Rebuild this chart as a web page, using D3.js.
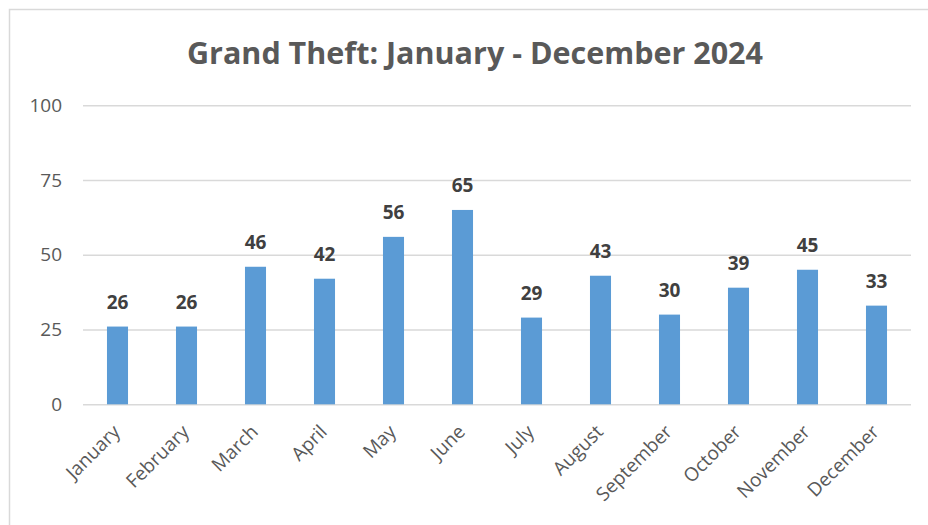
<!DOCTYPE html>
<html>
<head>
<meta charset="utf-8">
<script src="https://cdn.jsdelivr.net/npm/d3@7"></script>
<style>
  html, body { margin: 0; padding: 0; background: #fff; }
  svg { display: block; }
</style>
</head>
<body>
<svg id="chart" width="928" height="525"></svg>
<script>
// Monthly counts of grand theft, 2024
const months = ["January", "February", "March", "April", "May", "June",
                "July", "August", "September", "October", "November", "December"];
const counts = [26, 26, 46, 42, 56, 65, 29, 43, 30, 39, 45, 33];
const yTicks = [0, 25, 50, 75, 100];
const title = "Grand Theft: January - December 2024";

const W = 928, H = 525;
const margin = { top: 105.3, right: 17, bottom: 120.7, left: 83 };
const svg = d3.select("#chart");
const font = "'Open Sans', 'DejaVu Sans', sans-serif";

// chart frame (only top and left edges fall inside the view)
svg.append("rect")
  .attr("x", 9.5).attr("y", 9.5)
  .attr("width", W).attr("height", H)
  .attr("fill", "#fff")
  .attr("stroke", "#d9d9d9").attr("stroke-width", 1.5);

const x = d3.scaleBand()
  .domain(months)
  .range([margin.left, W - margin.right])
  .paddingInner(0.695).paddingOuter(0.3475);

const y = d3.scaleLinear()
  .domain([0, 100])
  .range([H - margin.bottom, margin.top]);

// horizontal gridlines + y labels
const yAxis = d3.axisLeft(y).tickValues(yTicks)
  .tickSize(-(W - margin.right - margin.left)).tickPadding(21);
const gy = svg.append("g")
  .attr("transform", `translate(${margin.left},0)`)
  .call(yAxis);
gy.select(".domain").remove();
gy.selectAll(".tick line").attr("stroke", "#d9d9d9").attr("stroke-width", 1.5);
gy.selectAll(".tick text")
  .attr("fill", "#595959")
  .style("font-family", font)
  .style("font-size", "19px");

// bars
svg.append("g").selectAll("rect")
  .data(months)
  .join("rect")
  .attr("x", d => x(d))
  .attr("width", x.bandwidth())
  .attr("y", (d, i) => y(counts[i]))
  .attr("height", (d, i) => y(0) - y(counts[i]))
  .attr("fill", "#5b9bd5");

// value labels above bars
svg.append("g").selectAll("text")
  .data(months)
  .join("text")
  .attr("x", d => x(d) + x.bandwidth() / 2)
  .attr("y", (d, i) => y(counts[i]) - 18)
  .attr("text-anchor", "middle")
  .attr("fill", "#404040")
  .style("font-family", font)
  .style("font-weight", "bold")
  .style("font-size", "19px")
  .text((d, i) => counts[i]);

// rotated month labels
const xAxis = d3.axisBottom(x).tickSize(0).tickPadding(0);
const gx = svg.append("g")
  .attr("transform", `translate(0,${y(0)})`)
  .call(xAxis);
gx.select(".domain").remove();
gx.selectAll(".tick text")
  .attr("fill", "#595959")
  .style("font-family", font)
  .style("font-size", "19px")
  .attr("text-anchor", "end")
  .attr("transform", "translate(-1,24) rotate(-45)")
  .attr("dy", "0.35em");

// title
svg.append("text")
  .attr("x", 475)
  .attr("y", 64)
  .attr("text-anchor", "middle")
  .attr("fill", "#595959")
  .style("font-family", font)
  .style("font-weight", "bold")
  .style("font-size", "30.5px")
  .text(title);
</script>
</body>
</html>
